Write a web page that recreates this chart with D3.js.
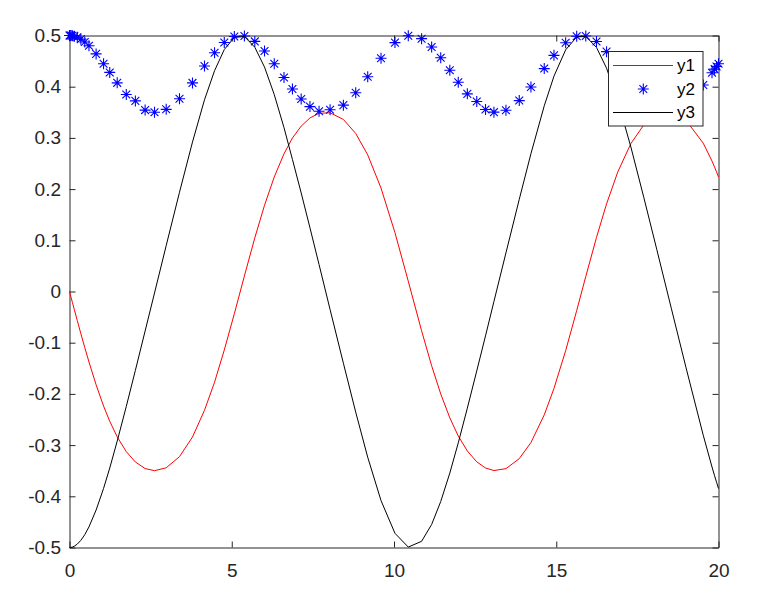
<!DOCTYPE html>
<html>
<head>
<meta charset="utf-8">
<script src="https://cdnjs.cloudflare.com/ajax/libs/d3/7.8.5/d3.min.js"></script>
<style>
  html, body { margin: 0; padding: 0; background: #fff; }
  svg { display: block; }
  text { font-family: "Liberation Sans", Arial, Helvetica, sans-serif; }
</style>
</head>
<body>
<svg id="chart" width="780" height="599"></svg>
<script>
// ---- data ----
const xs = [0, 0.02, 0.05, 0.09, 0.15, 0.24, 0.35, 0.47, 0.6, 0.82, 1.05, 1.24, 1.47, 1.75, 2.03, 2.33, 2.62, 2.98, 3.39, 3.79, 4.16, 4.47, 4.77, 5.08, 5.39, 5.71, 6.01, 6.31, 6.61, 6.87, 7.14, 7.41, 7.69, 8.03, 8.44, 8.82, 9.19, 9.6, 10.03, 10.44, 10.85, 11.16, 11.44, 11.72, 11.98, 12.26, 12.55, 12.82, 13.08, 13.45, 13.86, 14.22, 14.63, 14.93, 15.29, 15.63, 15.91, 16.24, 16.55, 16.9, 17.3, 17.7, 18.1, 18.55, 19.0, 19.53, 19.8, 19.88, 19.94, 20];

const y1 = [0, -0.0048, -0.0119, -0.0214, -0.0356, -0.0568, -0.0823, -0.1094, -0.1376, -0.1822, -0.2237, -0.2535, -0.2839, -0.3128, -0.3330, -0.3458, -0.3500, -0.3443, -0.3226, -0.2842, -0.2320, -0.1772, -0.1142, -0.0433, 0.0304, 0.1047, 0.1684, 0.2237, 0.2689, 0.2998, 0.3230, 0.3390, 0.3480, 0.3491, 0.3360, 0.3087, 0.2668, 0.2020, 0.1148, 0.0201, -0.0766, -0.1451, -0.2001, -0.2468, -0.2822, -0.3115, -0.3327, -0.3447, -0.3497, -0.3460, -0.3265, -0.2950, -0.2410, -0.1893, -0.1155, -0.0373, 0.0293, 0.1056, 0.1711, 0.2341, 0.2889, 0.3256, 0.3453, 0.3492, 0.3341, 0.2897, 0.2548, 0.2429, 0.2335, 0.2237];

const y2 = [0.5, 0.5000, 0.4999, 0.4995, 0.4987, 0.4966, 0.4929, 0.4874, 0.4799, 0.4641, 0.4449, 0.4279, 0.4075, 0.3849, 0.3723, 0.3543, 0.3500, 0.3558, 0.3764, 0.4074, 0.4405, 0.4662, 0.4862, 0.4980, 0.4990, 0.4885, 0.4696, 0.4449, 0.4180, 0.3955, 0.3760, 0.3611, 0.3520, 0.3551, 0.3640, 0.3883, 0.4194, 0.4556, 0.4861, 0.4996, 0.4938, 0.4776, 0.4564, 0.4320, 0.4088, 0.3860, 0.3712, 0.3554, 0.3503, 0.3541, 0.3729, 0.3993, 0.4354, 0.4612, 0.4859, 0.4986, 0.4991, 0.4882, 0.4685, 0.4393, 0.4039, 0.3737, 0.3548, 0.3508, 0.3658, 0.4033, 0.4271, 0.4343, 0.4396, 0.4449];

const y3 = [-0.5, -0.5000, -0.4997, -0.4991, -0.4974, -0.4934, -0.4860, -0.4750, -0.4597, -0.4269, -0.3846, -0.3448, -0.2924, -0.2244, -0.1541, -0.0773, -0.0029, 0.0897, 0.1939, 0.2919, 0.3744, 0.4312, 0.4726, 0.4962, 0.4981, 0.4771, 0.4383, 0.3846, 0.3201, 0.2580, 0.1925, 0.1244, 0.0528, -0.0351, -0.1400, -0.2356, -0.3237, -0.4084, -0.4723, -0.4992, -0.4879, -0.4550, -0.4102, -0.3546, -0.2957, -0.2279, -0.1552, -0.0867, -0.0194, 0.0755, 0.1800, 0.2692, 0.3626, 0.4206, 0.4720, 0.4972, 0.4982, 0.4767, 0.4362, 0.3717, 0.2822, 0.1833, 0.0816, -0.0339, -0.1490, -0.2807, -0.3428, -0.3600, -0.3725, -0.3848];

const xTicks = [0, 5, 10, 15, 20];
const yTicks = [-0.5, -0.4, -0.3, -0.2, -0.1, 0, 0.1, 0.2, 0.3, 0.4, 0.5];
const seriesNames = ["y1", "y2", "y3"];
const seriesColors = ["#ff0000", "#0000ff", "#000000"];

// ---- layout ----
const svg = d3.select("#chart");
const L = 69.5, R = 718.5, T = 35.5, B = 547.5;
const x = d3.scaleLinear().domain([0, 20]).range([L, R]);
const y = d3.scaleLinear().domain([-0.5, 0.5]).range([B, T]);
const axisColor = "#262626";
const fontSize = 19;
const legendFontSize = 17;
const tickLen = 6;

function styleAxis(g) {
  g.select(".domain").attr("stroke", axisColor).attr("stroke-width", 1);
  g.selectAll(".tick line").attr("stroke", axisColor).attr("stroke-width", 1);
  g.selectAll(".tick text").attr("fill", axisColor)
    .style("font-family", '"Liberation Sans", Arial, Helvetica, sans-serif')
    .style("font-size", fontSize + "px");
}
const fmt = d => (Math.abs(d) < 1e-9 ? "0" : d3.format("")(+d.toFixed(1)).replace("\u2212", "-"));

svg.append("g").attr("transform", `translate(0,${B})`)
  .call(d3.axisBottom(x).tickValues(xTicks).tickFormat(d => String(d)).tickSizeInner(-tickLen).tickSizeOuter(0).tickPadding(16))
  .call(styleAxis);
svg.append("g").attr("transform", `translate(0,${T})`)
  .call(d3.axisTop(x).tickValues(xTicks).tickFormat("").tickSizeInner(-tickLen).tickSizeOuter(0))
  .call(styleAxis);
svg.append("g").attr("transform", `translate(${L},0)`)
  .call(d3.axisLeft(y).tickValues(yTicks).tickFormat(fmt).tickSizeInner(-tickLen).tickSizeOuter(0).tickPadding(8.5))
  .call(styleAxis);
svg.append("g").attr("transform", `translate(${R},0)`)
  .call(d3.axisRight(y).tickValues(yTicks).tickFormat("").tickSizeInner(-tickLen).tickSizeOuter(0))
  .call(styleAxis);

// ---- series ----
const pts = (ys) => xs.map((xv, i) => [xv, ys[i]]);
const line = d3.line().x(d => x(d[0])).y(d => y(d[1]));

function starPath(cx, cy) {
  const a = 5.5, b = 3.9;
  return `M${cx - a},${cy}L${cx + a},${cy}M${cx},${cy - a}L${cx},${cy + a}` +
         `M${cx - b},${cy - b}L${cx + b},${cy + b}M${cx - b},${cy + b}L${cx + b},${cy - b}`;
}

svg.append("path").datum(pts(y1)).attr("d", line)
  .attr("fill", "none").attr("stroke", seriesColors[0]).attr("stroke-width", 1);

svg.append("g").selectAll("path").data(pts(y2)).join("path")
  .attr("d", d => starPath(x(d[0]), y(d[1])))
  .attr("fill", "none").attr("stroke", seriesColors[1]).attr("stroke-width", 1.1);

svg.append("path").datum(pts(y3)).attr("d", line)
  .attr("fill", "none").attr("stroke", seriesColors[2]).attr("stroke-width", 1);

// ---- legend ----
const lg = svg.append("g");
lg.append("rect").attr("x", 608.5).attr("y", 51.5).attr("width", 94.5).attr("height", 74.5)
  .attr("fill", "#fff").attr("stroke", axisColor).attr("stroke-width", 1);
const rowY = [65, 89, 112];
seriesNames.forEach((name, i) => {
  if (i === 1) {
    lg.append("path").attr("d", starPath(643.3, rowY[i]))
      .attr("fill", "none").attr("stroke", seriesColors[i]).attr("stroke-width", 1.1);
  } else {
    lg.append("line").attr("x1", 613).attr("x2", 673).attr("y1", rowY[i] + 0.5).attr("y2", rowY[i] + 0.5)
      .attr("stroke", seriesColors[i]).attr("stroke-width", 1);
  }
  lg.append("text").attr("x", 677).attr("y", rowY[i]).attr("dy", "0.35em")
    .attr("fill", "#000").style("font-size", legendFontSize + "px").text(name);
});
</script>
</body>
</html>
